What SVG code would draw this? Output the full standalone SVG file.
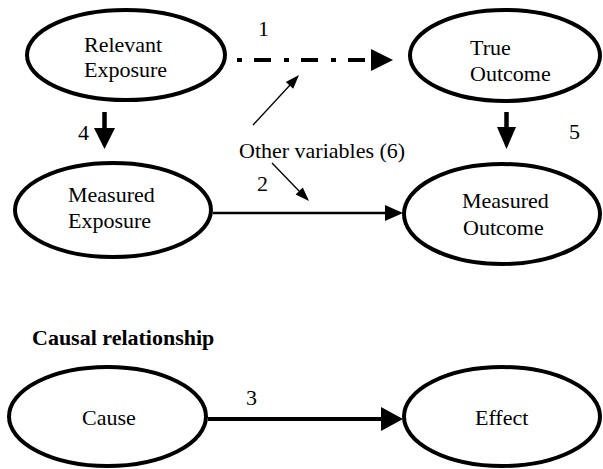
<svg xmlns="http://www.w3.org/2000/svg" width="603" height="469" viewBox="0 0 603 469">
  <style>
    .node { fill: #ffffff; stroke: #000000; stroke-width: 4; }
    text { font-family: "Times New Roman", "Liberation Serif", Tinos, "DejaVu Serif", serif; font-size: 22px; fill: #000000; }
    .title { font-weight: bold; }
    .thick { stroke: #000000; stroke-width: 4.5; fill: none; }
    .thin { stroke: #000000; stroke-width: 1.3; fill: none; }
    .head { fill: #000000; stroke: none; }
  </style>
  <rect width="603" height="469" fill="#ffffff"/>

  <!-- connectors -->
  <g id="connectors">
    <!-- 1: relevant exposure to true outcome (dash-dot) -->
    <line x1="237" y1="60" x2="366" y2="60" stroke="#000" stroke-width="4" stroke-dasharray="5 12 17 13"/>
    <polygon class="head" points="371,49 393,60 371,71"/>
    <!-- 4: relevant exposure down to measured exposure -->
    <line class="thick" x1="104.5" y1="112" x2="104.5" y2="130"/>
    <polygon class="head" points="94,128 115,128 104.5,149"/>
    <!-- 5: true outcome down to measured outcome -->
    <line class="thick" x1="506.5" y1="112" x2="506.5" y2="129"/>
    <polygon class="head" points="497,127 516,127 506.5,149"/>
    <!-- 2: measured exposure to measured outcome -->
    <line x1="213" y1="213" x2="388" y2="213" stroke="#000" stroke-width="2.5"/>
    <polygon class="head" points="385,205 403,213 385,221"/>
    <!-- 3: cause to effect -->
    <line x1="208" y1="419" x2="385" y2="419" stroke="#000" stroke-width="4"/>
    <polygon class="head" points="381,407 403,419 381,431"/>
    <!-- other variables pointing at arrows 1 and 2 -->
    <line class="thin" x1="253" y1="125" x2="291" y2="84"/>
    <polygon class="head" points="299,75 293.2,88.7 285.8,81.9"/>
    <line class="thin" x1="272" y1="163" x2="301" y2="193"/>
    <polygon class="head" points="309,201 302.8,187.5 295.6,194.5"/>
  </g>

  <g id="relevant-exposure">
    <ellipse class="node" cx="126" cy="55" rx="99" ry="45"/>
    <text x="84" y="52">Relevant</text>
    <text x="84" y="77">Exposure</text>
  </g>

  <g id="true-outcome">
    <ellipse class="node" cx="505" cy="55.5" rx="95" ry="45.5"/>
    <text x="470" y="55">True</text>
    <text x="470" y="81">Outcome</text>
  </g>

  <g id="measured-exposure">
    <ellipse class="node" cx="113" cy="210" rx="98" ry="47"/>
    <text x="68" y="202">Measured</text>
    <text x="68" y="228">Exposure</text>
  </g>

  <g id="measured-outcome">
    <ellipse class="node" cx="502" cy="214" rx="98" ry="50"/>
    <text x="462" y="208">Measured</text>
    <text x="463" y="235">Outcome</text>
  </g>

  <g id="cause">
    <ellipse class="node" cx="107.5" cy="416.5" rx="98.5" ry="49.5"/>
    <text x="82" y="425">Cause</text>
  </g>

  <g id="effect">
    <ellipse class="node" cx="502" cy="416.5" rx="98" ry="49.5"/>
    <text x="475" y="425">Effect</text>
  </g>

  <g id="labels">
    <text x="258" y="36">1</text>
    <text x="257" y="191">2</text>
    <text x="246" y="405">3</text>
    <text x="78" y="140">4</text>
    <text x="569" y="139">5</text>
    <text x="239" y="158">Other variables (6)</text>
    <text class="title" x="32" y="345">Causal relationship</text>
  </g>
</svg>
